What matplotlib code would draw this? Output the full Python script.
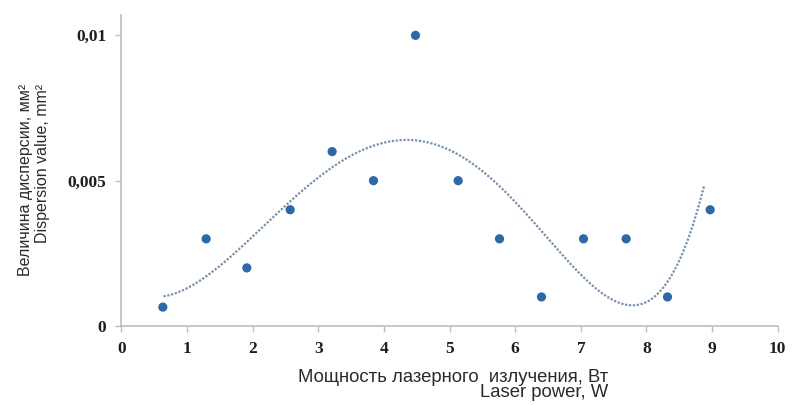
import numpy as np
import matplotlib
matplotlib.use("Agg")
import matplotlib.pyplot as plt

# Measured dispersion versus laser power
power = [0.63, 1.29, 1.91, 2.57, 3.21, 3.84, 4.48, 5.13, 5.76, 6.40, 7.04, 7.69, 8.32, 8.97]
dispersion = [0.00065, 0.003, 0.002, 0.004, 0.006, 0.005, 0.010, 0.005, 0.003, 0.001, 0.003, 0.003, 0.001, 0.004]

# Polynomial trend line, given by sampled values along the curve
trend_x = [0.64, 1.25, 1.91, 2.57, 3.22, 4.19, 5.00, 5.15, 5.76, 6.42, 7.08, 7.69, 8.30, 8.70, 8.88]
trend_y = [0.00101, 0.00169, 0.00284, 0.00427, 0.00553, 0.00639, 0.00605, 0.00582,
           0.00479, 0.0033, 0.00158, 0.00072, 0.00135, 0.00364, 0.00473]

x_ticks = [0, 1, 2, 3, 4, 5, 6, 7, 8, 9, 10]
y_ticks = [0, 0.005, 0.01]
y_tick_labels = ["0", "0,005", "0,01"]

x_label = "Мощность лазерного  излучения, Вт\nLaser power, W"
y_label = "Величина дисперсии, мм²\nDispersion value, mm²"

fig = plt.figure(figsize=(7.92, 4.05), dpi=100)
ax = fig.add_axes([0.1534, 0.195, 0.982 - 0.1534, 0.963 - 0.195])

coef = np.polyfit(trend_x, trend_y, 6)
xs = np.linspace(trend_x[0], trend_x[-1], 400)
ax.plot(xs, np.polyval(coef, xs), color="#7890ad", lw=1.6,
        linestyle=(0, (1.0, 0.75)), dash_capstyle="butt", zorder=2)

ax.scatter(power, dispersion, s=44, color="#2d69a8", edgecolors="none", zorder=3)

ax.set_xlim(0, 10)
ax.set_ylim(0, 0.0107)
ax.set_xticks(x_ticks)
ax.set_xticklabels([str(t) for t in x_ticks])
ax.set_yticks(y_ticks)
ax.set_yticklabels(y_tick_labels)

for side in ("top", "right"):
    ax.spines[side].set_visible(False)
for side in ("left", "bottom"):
    ax.spines[side].set_color("#bdbdbd")
    ax.spines[side].set_linewidth(1.2)

ax.tick_params(axis="both", direction="out", length=4, width=1.0, color="#bdbdbd",
               labelcolor="#1e1e1e", pad=7)
for lab in ax.get_xticklabels() + ax.get_yticklabels():
    lab.set_fontfamily("Liberation Serif")
    lab.set_fontweight("bold")
    lab.set_fontsize(12.5)

fig.text(453 / 792, 1 - 385 / 405, x_label, ha="center", va="center",
         multialignment="right", fontsize=13.3, family="Liberation Sans",
         color="#2a2a2a", linespacing=0.8)
fig.text(34 / 792, 1 - 180 / 405, y_label, ha="center", va="center", rotation=90,
         multialignment="right", fontsize=11.5, family="Liberation Sans",
         color="#2a2a2a", linespacing=1.12)

fig.savefig("out.png")
